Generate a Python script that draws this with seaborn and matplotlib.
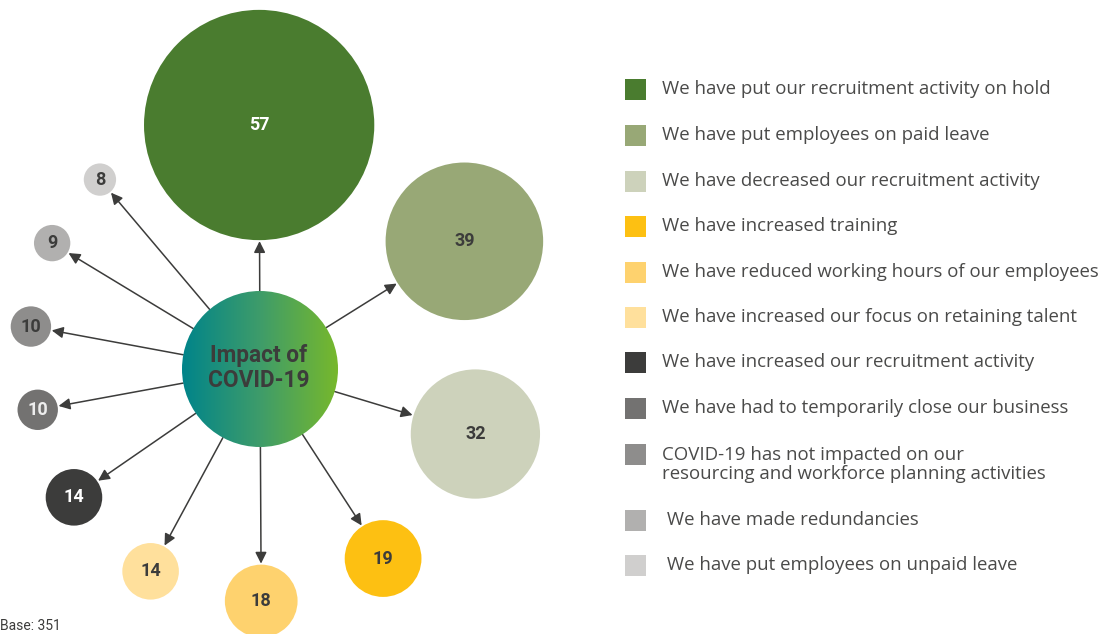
import numpy as np
import pandas as pd
import matplotlib
matplotlib.use("Agg")
import matplotlib.pyplot as plt
from matplotlib.patches import Circle, Rectangle
from matplotlib.colors import LinearSegmentedColormap
import seaborn as sns

DARK = "#3C3C3B"
LEGEND_TEXT = "#4A4A49"

# data
labels = [
    "We have put our recruitment activity on hold",
    "We have put employees on paid leave",
    "We have decreased our recruitment activity",
    "We have increased training",
    "We have reduced working hours of our employees",
    "We have increased our focus on retaining talent",
    "We have increased our recruitment activity",
    "We have had to temporarily close our business",
    "COVID-19 has not impacted on our\nresourcing and workforce planning activities",
    " We have made redundancies",
    " We have put employees on unpaid leave",
]
values = [57, 39, 32, 19, 18, 14, 14, 10, 10, 9, 8]
colors = ["#4A7C2F", "#98A876", "#CDD2BB", "#FDC012", "#FED26E", "#FFE09C",
          "#3C3C3B", "#737271", "#8E8D8C", "#B1B0AF", "#D0CFCE"]
num_colors = ["white", DARK, DARK, DARK, DARK, DARK, "white", "#EDEDED", DARK, DARK, DARK]

# layout (polar placement around the hub, pixels)
hub = (260, 369)
hub_r = 78
angle = [90.2, 32.0, -16.8, -57.0, -89.7, 241.6, 214.6, 190.4, 169.5, 148.8, 130.2]
dist = [244, 241, 225, 226, 232, 230, 226, 226, 233, 243, 248]
px_per_unit = 2.02
DPI = 100

sns.set_theme(style="white")
plt.rcParams["font.family"] = ["Roboto", "DejaVu Sans"]

fig = plt.figure(figsize=(11.03, 6.34), dpi=DPI)
ax = fig.add_axes([0, 0, 1, 1])

th = np.radians(angle)
df = pd.DataFrame({"label": labels, "value": values})
df["x"] = hub[0] + np.array(dist) * np.cos(th)
df["y"] = hub[1] - np.array(dist) * np.sin(th)
df["r"] = df["value"] * px_per_unit
df["s"] = (2 * df["r"] * 72 / DPI) ** 2

# arrows from hub edge to bubble edge
for _, row in df.iterrows():
    dx, dy = row.x - hub[0], row.y - hub[1]
    d = np.hypot(dx, dy)
    ux, uy = dx / d, dy / d
    start = (hub[0] + ux * hub_r, hub[1] + uy * hub_r)
    end = (row.x - ux * (row.r + 1), row.y - uy * (row.r + 1))
    ax.annotate("", xy=end, xytext=start,
                arrowprops=dict(arrowstyle="-|>", color=DARK, lw=1.1,
                                mutation_scale=17, shrinkA=0, shrinkB=0),
                zorder=2)

sns.scatterplot(data=df, x="x", y="y", hue="label", palette=dict(zip(labels, colors)),
                size="s", sizes=(df["s"].min(), df["s"].max()),
                size_norm=(df["s"].min(), df["s"].max()),
                linewidth=0, legend=False, ax=ax, zorder=3)

for row, c in zip(df.itertuples(), num_colors):
    ax.text(row.x, row.y, str(row.value), ha="center", va="center",
            fontsize=13, fontweight="bold", color=c, zorder=4)

# gradient hub
cmap = LinearSegmentedColormap.from_list("hub", ["#00848A", "#3E9C6A", "#77B82C"])
grad = np.linspace(0, 1, 256).reshape(1, -1)
im = ax.imshow(grad, cmap=cmap, aspect="auto", zorder=3,
               extent=(hub[0] - hub_r, hub[0] + hub_r, hub[1] + hub_r, hub[1] - hub_r))
clip = Circle(hub, hub_r, transform=ax.transData, facecolor="none", edgecolor="none")
ax.add_patch(clip)
im.set_clip_path(clip)
ax.text(hub[0] - 1, hub[1] - 1, "Impact of\nCOVID-19", ha="center", va="center",
        fontsize=16.3, fontweight="bold", color=DARK, linespacing=1.1, zorder=5)

# legend
row_y = [89, 135, 181, 226, 272, 317, 362, 408, 454, 520, 565]
for lab, c, yc in zip(labels, colors, row_y):
    ax.add_patch(Rectangle((625, yc - 10.5), 21, 21, facecolor=c, edgecolor="none"))
    nlines = lab.count("\n") + 1
    ax.text(662, yc + (nlines - 1) * 10.5, lab, ha="left", va="center",
            fontsize=13.45, color=LEGEND_TEXT, family=["Open Sans", "DejaVu Sans"],
            linespacing=1.05)

ax.text(0, 633, "Base: 351", ha="left", va="bottom", fontsize=10, color=DARK)

ax.set_xlim(0, 1103)
ax.set_ylim(634, 0)
ax.axis("off")

fig.savefig("out.png", dpi=DPI)
